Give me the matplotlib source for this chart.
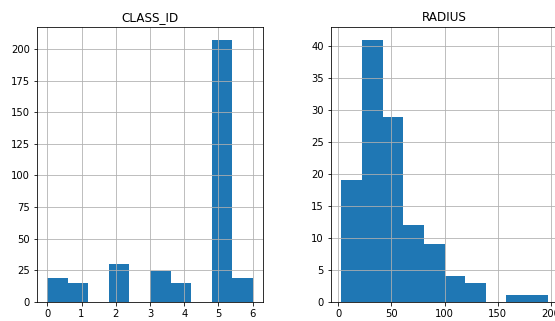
import numpy as np
import matplotlib
matplotlib.use("Agg")
from matplotlib import pyplot as plt

# CLASS_ID histogram (10 bins over 0..6)
class_edges = np.linspace(0, 6, 11)
class_counts = [19, 15, 0, 30, 0, 24, 15, 0, 207, 19]

# RADIUS histogram (10 bins over ~3..197)
radius_edges = np.linspace(3, 197, 11)
radius_counts = [19, 41, 29, 12, 9, 4, 3, 0, 1, 1]

fig = plt.figure(figsize=(555 / 72, 321 / 72), dpi=72)

ax1 = fig.add_axes([37 / 555, 19.3 / 321, 226 / 555, 274.7 / 321])
ax2 = fig.add_axes([331 / 555, 19.3 / 321, 227 / 555, 274.7 / 321])

for ax, edges, counts, title in [
    (ax1, class_edges, class_counts, "CLASS_ID"),
    (ax2, radius_edges, radius_counts, "RADIUS"),
]:
    ax.hist(edges[:-1], bins=edges, weights=counts, color="C0")
    ax.grid(True)
    ax.set_title(title)

fig.savefig("out.png", dpi=72)
